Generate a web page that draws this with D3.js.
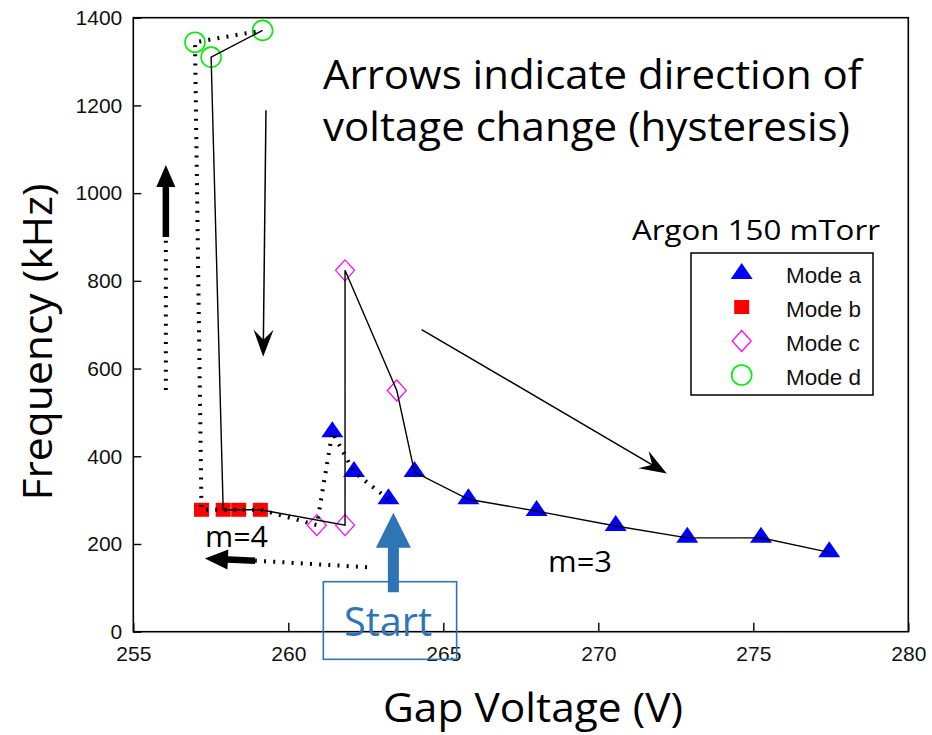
<!DOCTYPE html>
<html>
<head>
<meta charset="utf-8">
<script src="https://cdn.jsdelivr.net/npm/d3@7"></script>
<style>
  html, body { margin: 0; padding: 0; background: #fff; }
  svg { display: block; }
</style>
</head>
<body>
<svg id="chart" width="932" height="735"></svg>
<script>
// ---- data: gap voltage (V) and frequency (kHz) for each discharge mode ----
const modeA_V = [261.42, 262.12, 263.23, 264.07, 265.81, 268.01, 270.56, 272.87, 275.25, 277.45];
const modeA_F = [455, 364, 302, 364, 302, 275, 241, 214, 214, 181];
const modeB_V = [257.2, 257.9, 258.4, 259.1];
const modeB_F = [278, 278, 278, 278];
const modeC_V = [260.92, 261.83, 261.83, 263.5];
const modeC_F = [243, 243, 824, 550];
const modeD_V = [256.99, 257.51, 259.17];
const modeD_F = [1344, 1310, 1371];

// sweep order as [mode, index]: decreasing voltage (dotted), then increasing (solid)
const sweepDown = [["a",2],["a",1],["a",0],["c",0],["b",3],["b",2],["b",1],["b",0],["d",0],["d",2]];
const sweepUp = [["d",2],["d",1],["b",1],["b",2],["b",3],["c",1],["c",2],["c",3],["a",3],["a",4],["a",5],["a",6],["a",7],["a",8],["a",9]];

const xTicks = [255, 260, 265, 270, 275, 280];
const yTicks = [0, 200, 400, 600, 800, 1000, 1200, 1400];
const legendLabels = ["Mode a", "Mode b", "Mode c", "Mode d"];

// annotation arrows in data units [V, kHz]
const thickUpArrow   = { dots: [256.05, 551], from: [256.05, 900], to: [256.05, 1064] };
const thinDownArrow  = { from: [259.28, 1189], to: [259.19, 627] };
const thinDiagArrow  = { from: [264.30, 689], to: [272.21, 361] };
const thickLeftArrow = { dots: [262.54, 147], from: [258.93, 162], to: [257.31, 167] };
const startArrow     = { from: [263.39, 90], to: [263.39, 271] };
const startBox       = { v0: 261.13, v1: 265.43, f0: 114, f1: -63 };

// ---- setup ----
const svg = d3.select("#chart");
const x = d3.scaleLinear().domain([255, 280]).range([133.3, 908.3]);
const y = d3.scaleLinear().domain([0, 1400]).range([631.7, 17.7]);
const modes = {
  a: modeA_V.map((v, i) => [v, modeA_F[i]]),
  b: modeB_V.map((v, i) => [v, modeB_F[i]]),
  c: modeC_V.map((v, i) => [v, modeC_F[i]]),
  d: modeD_V.map((v, i) => [v, modeD_F[i]])
};
const uiFont = "'Open Sans', 'Noto Sans', sans-serif";
const axFont = "'Liberation Sans', Arial, sans-serif";

// marker shapes
const markers = {
  a: { d: "M0,-11L11,5L-11,5Z", fill: "#0000ff", stroke: "none" },
  b: { d: "M-7.5,-7H7.5V7H-7.5Z", fill: "#ff0000", stroke: "none" },
  c: { d: "M0,-10.5L9.5,0L0,10.5L-9.5,0Z", fill: "none", stroke: "#ff00ff", sw: 1.2 },
  d: { circle: 10, fill: "none", stroke: "#00ee00", sw: 1.6 }
};
function drawMarker(g, key, px, py) {
  const m = markers[key];
  if (m.circle) {
    g.append("circle").attr("cx", px).attr("cy", py).attr("r", m.circle)
      .attr("fill", m.fill).attr("stroke", m.stroke).attr("stroke-width", m.sw);
  } else {
    g.append("path").attr("d", m.d).attr("transform", `translate(${px},${py})`)
      .attr("fill", m.fill).attr("stroke", m.stroke).attr("stroke-width", m.sw || 0);
  }
}

// ---- axes frame ----
const frame = svg.append("g");
frame.append("rect")
  .attr("x", x(255)).attr("y", y(1400))
  .attr("width", x(280) - x(255)).attr("height", y(0) - y(1400))
  .attr("fill", "none").attr("stroke", "#000").attr("stroke-width", 1.6);

const xAxis = d3.axisBottom(x).tickValues(xTicks).tickSize(-9).tickPadding(14).tickFormat(d3.format("d"));
const yAxis = d3.axisLeft(y).tickValues(yTicks).tickSize(-8).tickPadding(11).tickFormat(d3.format("d"));
const gx = svg.append("g").attr("transform", `translate(0,${y(0)})`).call(xAxis);
const gy = svg.append("g").attr("transform", `translate(${x(255)},0)`).call(yAxis);
[gx, gy].forEach(g => {
  g.select(".domain").remove();
  g.selectAll(".tick line").attr("stroke", "#000").attr("stroke-width", 1.4);
  g.selectAll(".tick text").attr("font-family", axFont).attr("font-size", 21).attr("fill", "#111");
});
gx.selectAll(".tick text").attr("dy", "0.75em");

// ---- markers, then curves over them ----
const gMarks = svg.append("g");
Object.keys(modes).forEach(k => modes[k].forEach(p => drawMarker(gMarks, k, x(p[0]), y(p[1]))));

const line = d3.line().x(p => x(p[0])).y(p => y(p[1]));
const pts = seq => seq.map(([k, i]) => modes[k][i]);
svg.append("path").attr("d", line(pts(sweepDown)))
  .attr("fill", "none").attr("stroke", "#000").attr("stroke-width", 4)
  .attr("stroke-dasharray", "2,7.2");
svg.append("path").attr("d", line(pts(sweepUp)))
  .attr("fill", "none").attr("stroke", "#000").attr("stroke-width", 1.4);

// ---- legend ----
const lg = svg.append("g");
lg.append("rect").attr("x", 691).attr("y", 253).attr("width", 182).attr("height", 142)
  .attr("fill", "#fff").attr("stroke", "#000").attr("stroke-width", 1.5);
const legendKeys = ["a", "b", "c", "d"];
legendKeys.forEach((k, i) => {
  const cy = 273 + i * 34;
  if (k === "a") drawMarker(lg.append("g").attr("transform", "scale(1)"), k, 741.7, cy + 1);
  else drawMarker(lg, k, 741.7, cy);
  lg.append("text").attr("x", 786).attr("y", cy + 9.5)
    .attr("font-family", axFont).attr("font-size", 22.5).attr("fill", "#111")
    .text(legendLabels[i]);
});

// ---- annotation arrows ----
const ann = svg.append("g");
function dotted(a, b, w) {
  ann.append("line").attr("x1", x(a[0])).attr("y1", y(a[1])).attr("x2", x(b[0])).attr("y2", y(b[1]))
    .attr("stroke", "#000").attr("stroke-width", w).attr("stroke-dasharray", "2,7.2");
}
// block arrow polygon from tail to tip
function blockArrow(from, to, shaftW, headW, headL, color) {
  const x0 = x(from[0]), y0 = y(from[1]), x1 = x(to[0]), y1 = y(to[1]);
  const L = Math.hypot(x1 - x0, y1 - y0);
  const ang = Math.atan2(y1 - y0, x1 - x0) * 180 / Math.PI;
  const s = shaftW / 2, h = headW / 2, b = L - headL;
  const d = `M0,${-s}L${b},${-s}L${b},${-h}L${L},0L${b},${h}L${b},${s}L0,${s}Z`;
  ann.append("path").attr("d", d).attr("fill", color)
    .attr("transform", `translate(${x0},${y0}) rotate(${ang})`);
}
// thin line arrow with a notched head
function thinArrow(from, to) {
  const x0 = x(from[0]), y0 = y(from[1]), x1 = x(to[0]), y1 = y(to[1]);
  const L = Math.hypot(x1 - x0, y1 - y0);
  const ang = Math.atan2(y1 - y0, x1 - x0) * 180 / Math.PI;
  const g = ann.append("g").attr("transform", `translate(${x0},${y0}) rotate(${ang})`);
  g.append("line").attr("x1", 0).attr("y1", 0).attr("x2", L - 10).attr("y2", 0)
    .attr("stroke", "#000").attr("stroke-width", 1.5);
  g.append("path").attr("d", `M${L},0L${L - 27},-10L${L - 17},0L${L - 27},10Z`).attr("fill", "#000");
}

dotted(thickUpArrow.dots, thickUpArrow.from, 4);
blockArrow(thickUpArrow.from, thickUpArrow.to, 6.5, 19, 22, "#000");
thinArrow(thinDownArrow.from, thinDownArrow.to);
thinArrow(thinDiagArrow.from, thinDiagArrow.to);
dotted(thickLeftArrow.dots, thickLeftArrow.from, 4);
blockArrow(thickLeftArrow.from, thickLeftArrow.to, 6.5, 20, 23, "#000");

// ---- start marker ----
svg.append("rect")
  .attr("x", x(startBox.v0)).attr("y", y(startBox.f0))
  .attr("width", x(startBox.v1) - x(startBox.v0)).attr("height", y(startBox.f1) - y(startBox.f0))
  .attr("fill", "none").attr("stroke", "#2e75b6").attr("stroke-width", 1.6);
blockArrow(startArrow.from, startArrow.to, 11, 35, 35, "#2e75b6");

// ---- text ----
function fitText(sel, width) {
  sel.attr("textLength", width).attr("lengthAdjust", "spacingAndGlyphs");
  return sel;
}
const T = (tx, ty, size, str, w, color, anchor) => fitText(
  svg.append("text").attr("x", tx).attr("y", ty).attr("font-family", uiFont)
    .attr("font-size", size).attr("fill", color || "#000").attr("text-anchor", anchor || "start").text(str), w);

T(323, 89, 41, "Arrows indicate direction of", 539);
T(323, 141, 41, "voltage change (hysteresis)", 527);
T(632, 240, 28, "Argon 150 mTorr", 248);
T(205, 547, 29, "m=4", 63);
T(548, 572, 29, "m=3", 64);
T(388, 636, 40, "Start", 88, "#2e75b6", "middle");
T(533, 722, 41, "Gap Voltage (V)", 300, "#000", "middle");
svg.append("text").attr("transform", "translate(52,342) rotate(-90)")
  .attr("font-family", uiFont).attr("font-size", 41).attr("text-anchor", "middle")
  .attr("textLength", 317).attr("lengthAdjust", "spacingAndGlyphs")
  .text("Frequency (kHz)");
</script>
</body>
</html>
